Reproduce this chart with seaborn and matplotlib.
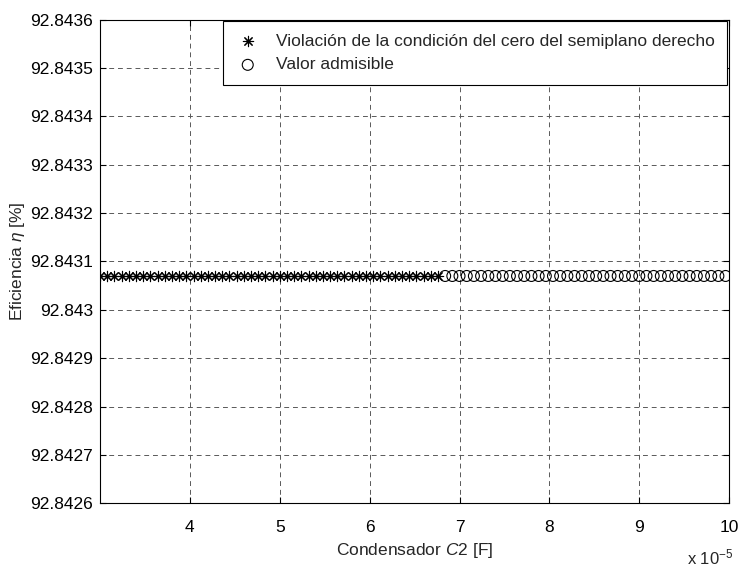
import numpy as np
import pandas as pd
import matplotlib
matplotlib.use("Agg")
import matplotlib.pyplot as plt
import seaborn as sns

# datos (C2 en unidades de 1e-5 F)
c2_violacion = [3.00, 3.08, 3.16, 3.24, 3.32, 3.40, 3.48, 3.56, 3.64, 3.72,
                3.80, 3.88, 3.96, 4.04, 4.12, 4.20, 4.28, 4.36, 4.44, 4.52,
                4.60, 4.68, 4.76, 4.84, 4.92, 5.00, 5.08, 5.16, 5.24, 5.32,
                5.40, 5.48, 5.56, 5.64, 5.72, 5.80, 5.88, 5.96, 6.04, 6.12,
                6.20, 6.28, 6.36, 6.44, 6.52, 6.60, 6.68, 6.76]
c2_admisible = [6.84, 6.92, 7.00, 7.08, 7.16, 7.24, 7.32, 7.40, 7.48, 7.56,
                7.64, 7.72, 7.80, 7.88, 7.96, 8.04, 8.12, 8.20, 8.28, 8.36,
                8.44, 8.52, 8.60, 8.68, 8.76, 8.84, 8.92, 9.00, 9.08, 9.16,
                9.24, 9.32, 9.40, 9.48, 9.56, 9.64, 9.72, 9.80, 9.88, 9.96]
eficiencia_nivel = 92.84307

x_ticks = [4, 5, 6, 7, 8, 9, 10]
y_ticks = [92.8426, 92.8427, 92.8428, 92.8429, 92.8430,
           92.8431, 92.8432, 92.8433, 92.8434, 92.8435, 92.8436]
y_tick_labels = ["92.8426", "92.8427", "92.8428", "92.8429", "92.843",
                 "92.8431", "92.8432", "92.8433", "92.8434", "92.8435", "92.8436"]

lbl_viol = "Violación de la condición del cero del semiplano derecho"
lbl_adm = "Valor admisible"

df_viol = pd.DataFrame({"c2": c2_violacion, "ef": [eficiencia_nivel] * len(c2_violacion)})
df_adm = pd.DataFrame({"c2": c2_admisible, "ef": [eficiencia_nivel] * len(c2_admisible)})

sns.set_style("ticks")
plt.rcParams["font.family"] = ["Liberation Sans", "DejaVu Sans"]
plt.rcParams["mathtext.fontset"] = "custom"
plt.rcParams["mathtext.rm"] = "Liberation Sans"
plt.rcParams["mathtext.it"] = "Liberation Sans:italic"

fig, ax = plt.subplots(figsize=(7.41, 5.74), dpi=100)
fig.subplots_adjust(left=0.135, right=0.984, top=0.966, bottom=0.123)

sns.scatterplot(data=df_viol, x="c2", y="ef", marker=(8, 2, 0), s=55,
                color="k", linewidth=0.8, label=lbl_viol, ax=ax, zorder=3)
sns.scatterplot(data=df_adm, x="c2", y="ef", marker="o", s=62,
                facecolor="none", edgecolor="k", linewidth=0.8,
                label=lbl_adm, ax=ax, zorder=3)

ax.set_xlim(3, 10)
ax.set_ylim(92.8426, 92.8436)
ax.set_xticks(x_ticks)
ax.set_xticklabels([str(t) for t in x_ticks])
ax.set_yticks(y_ticks)
ax.set_yticklabels(y_tick_labels)

ax.grid(True, color="0.35", linestyle=(0, (5, 4)), linewidth=0.7)
for s in ax.spines.values():
    s.set_visible(True)
    s.set_color("k")
    s.set_linewidth(0.8)
ax.tick_params(direction="in", length=4, width=0.8, labelsize=12.5,
               top=True, right=True, colors="k")
ax.tick_params(axis="x", pad=12)
ax.tick_params(axis="y", pad=5)

ax.set_xlabel("Condensador $\\mathit{C2}$ [F]", fontsize=12.5, labelpad=4)
ax.set_ylabel("Eficiencia $\\mathit{\\eta}$ [%]", fontsize=12.5, labelpad=2)
fig.text(0.99, 0.012, "x 10$^{-5}$", ha="right", va="bottom", fontsize=12)

leg = ax.legend(loc="upper right", fontsize=12.5, frameon=True, fancybox=False,
                edgecolor="k", framealpha=1, borderaxespad=0.1,
                handlelength=1.5, handletextpad=0.9, borderpad=0.7,
                labelspacing=0.5)
leg.get_frame().set_linewidth(0.8)

fig.savefig("out.png", dpi=100)
